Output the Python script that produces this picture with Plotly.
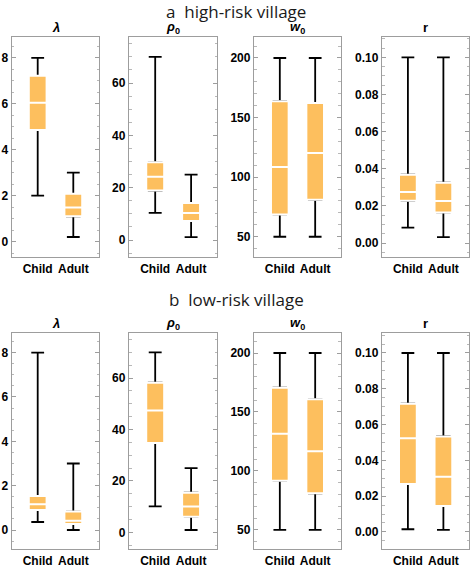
import plotly.graph_objects as go

W, H = 472, 567

categories = ["Child", "Adult"]

# five-number summaries: [lower whisker, Q1, median, Q3, upper whisker]
hi_lambda_child = [2.0, 4.86, 6.05, 7.22, 8.0]
hi_lambda_adult = [0.2, 1.10, 1.49, 2.08, 3.0]
hi_rho_child = [10.4, 18.9, 24.2, 29.7, 70.0]
hi_rho_adult = [1.1, 7.3, 10.3, 14.1, 25.0]
hi_w_child = [50.0, 68.7, 108.5, 163.7, 200.0]
hi_w_adult = [50.0, 81.0, 120.2, 162.3, 200.0]
hi_r_child = [0.0083, 0.0228, 0.0275, 0.0368, 0.100]
hi_r_adult = [0.0032, 0.0165, 0.0226, 0.0325, 0.100]

lo_lambda_child = [0.36, 0.90, 1.16, 1.53, 8.0]
lo_lambda_adult = [0.0, 0.27, 0.42, 0.83, 3.0]
lo_rho_child = [10.1, 34.7, 47.4, 58.2, 70.0]
lo_rho_adult = [0.9, 6.1, 10.0, 15.4, 25.0]
lo_w_child = [50.0, 91.8, 131.6, 170.6, 200.0]
lo_w_adult = [50.0, 81.1, 116.7, 160.7, 200.0]
lo_r_child = [0.0015, 0.0268, 0.0523, 0.0717, 0.100]
lo_r_adult = [0.0011, 0.0145, 0.0309, 0.0534, 0.100]

panel_titles = ["<b><i>λ</i></b>", "<b><i>ρ</i><sub>0</sub></b>", "<b><i>w</i><sub>0</sub></b>", "<b>r</b>"]
row_titles = ["a\u00a0\u00a0high-risk village", "b\u00a0\u00a0low-risk village"]

rows = [
    [(hi_lambda_child, hi_lambda_adult), (hi_rho_child, hi_rho_adult),
     (hi_w_child, hi_w_adult), (hi_r_child, hi_r_adult)],
    [(lo_lambda_child, lo_lambda_adult), (lo_rho_child, lo_rho_adult),
     (lo_w_child, lo_w_adult), (lo_r_child, lo_r_adult)],
]

# styling / layout (not data)
yranges = [
    [[-0.67, 8.91], [-6.5, 77.6], [33.0, 217.6], [-0.0075, 0.111]],
    [[-0.87, 8.87], [-6.6, 77.4], [33.6, 216.7], [-0.0097, 0.111]],
]
ydticks = [(2, 0.5, None), (20, 5, None), (50, 10, None), (0.02, 0.005, ".2f")]
xpix = [(11.7, 99.3), (129.0, 217.3), (254.0, 341.0), (382.0, 469.3)]
ypix = [(37.0, 257.0), (333.3, 549.3)]
title_y = [27, 323]
rowtitle_y = [11, 299]

ORANGE = "rgb(253,191,94)"
FRAME = "#9d9d9d"
FONT = "Liberation Sans, Arial, sans-serif"

fig = go.Figure()
layout = dict(width=W, height=H, margin=dict(l=0, r=0, t=0, b=0),
              paper_bgcolor="white", plot_bgcolor="white", showlegend=False,
              boxmode="overlay", annotations=[])

k = 0
for ri, row in enumerate(rows):
    for ci, (child, adult) in enumerate(row):
        k += 1
        xa = "x" if k == 1 else f"x{k}"
        ya = "y" if k == 1 else f"y{k}"
        lows = [child[0], adult[0]]
        q1s = [child[1], adult[1]]
        meds = [child[2], adult[2]]
        q3s = [child[3], adult[3]]
        highs = [child[4], adult[4]]
        # whiskers (black)
        fig.add_trace(go.Box(x=categories, q1=q1s, median=meds, q3=q3s,
                             lowerfence=lows, upperfence=highs,
                             xaxis=xa, yaxis=ya, width=0.36, whiskerwidth=1,
                             line=dict(color="black", width=1.8),
                             fillcolor="rgba(0,0,0,0)", boxpoints=False,
                             hoverinfo="skip"))
        # boxes (orange with white median)
        fig.add_trace(go.Box(x=categories, q1=q1s, median=meds, q3=q3s,
                             lowerfence=q1s, upperfence=q3s,
                             xaxis=xa, yaxis=ya, width=0.5, whiskerwidth=0,
                             line=dict(color="white", width=2),
                             fillcolor=ORANGE, boxpoints=False,
                             hoverinfo="skip"))
        x0, x1 = xpix[ci]
        y0, y1 = ypix[ri]
        dt, mdt, fmt = ydticks[ci]
        xkey = "xaxis" if k == 1 else f"xaxis{k}"
        ykey = "yaxis" if k == 1 else f"yaxis{k}"
        layout[xkey] = dict(domain=[x0 / W, x1 / W], anchor=ya, type="category",
                            range=[-0.73, 1.73], showline=True, mirror=True,
                            linecolor=FRAME, linewidth=1.3, ticks="",
                            showgrid=False, zeroline=False,
                            tickfont=dict(family=FONT, size=12, color="black", weight="bold"),
                            fixedrange=True)
        yax = dict(domain=[1 - y1 / H, 1 - y0 / H], anchor=xa,
                   range=yranges[ri][ci], showline=True, mirror="ticks",
                   linecolor=FRAME, linewidth=1.3, ticks="inside", ticklen=4,
                   tickwidth=1, tickcolor=FRAME, tick0=0, dtick=dt,
                   minor=dict(dtick=mdt, tick0=0, ticks="inside", ticklen=2.5,
                              tickwidth=1, tickcolor="#b8b8b8", showgrid=False),
                   showgrid=False, zeroline=False,
                   tickfont=dict(family=FONT, size=12, color="black", weight="bold"),
                   fixedrange=True)
        if fmt:
            yax["tickformat"] = fmt
        layout[ykey] = yax
        layout["annotations"].append(dict(
            text=panel_titles[ci], xref="paper", yref="paper",
            x=(x0 + x1) / 2 / W, y=1 - title_y[ri] / H, xanchor="center",
            yanchor="middle", showarrow=False,
            font=dict(family=FONT, size=13, color="black")))
    layout["annotations"].append(dict(
        text=row_titles[ri], xref="paper", yref="paper", x=0.5,
        y=1 - rowtitle_y[ri] / H, xanchor="center", yanchor="middle",
        showarrow=False, font=dict(family="Open Sans", size=17, color="#1a1a1a")))

fig.update_layout(**layout)
fig.write_html("out.html", config={"displayModeBar": False},
               post_script="document.body.style.margin='0';document.body.style.overflow='hidden';")
